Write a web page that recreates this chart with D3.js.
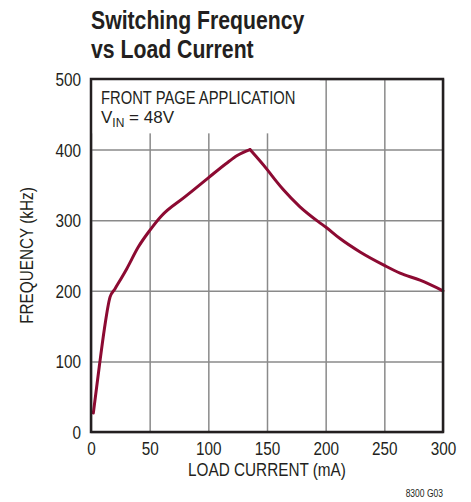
<!DOCTYPE html>
<html lang="en">
<head>
    <meta charset="UTF-8">
    <title>Switching Frequency vs Load Current</title>
    <script src="https://d3js.org/d3.v7.min.js"></script>
    <style>
        body { margin: 0; background: #fff; }
        svg text { font-family: "Liberation Sans", Arial, sans-serif; fill: #231f20; }
    </style>
</head>
<body>
    <svg id="chart"></svg>
    <script>
        // load current (mA) vs switching frequency (kHz)
        const loadCurrent = [2, 7, 11.4, 16.2, 20.5, 30.4, 40.3, 50.3, 60, 80, 100, 115, 125, 135.5,
                             150, 158, 164, 178.1, 193.7, 200.3, 212.2, 229.3, 250, 263.4, 280.4, 300];
        const frequency   = [27, 92, 146, 191, 203, 231, 262, 286, 306, 333, 360, 380, 392, 400,
                             372, 355, 343, 319, 298, 290, 274, 255, 236, 225, 215, 200];
        const xTicks = [0, 50, 100, 150, 200, 250, 300];
        const yTicks = [0, 100, 200, 300, 400, 500];

        const margin = { top: 79, right: 28, bottom: 70, left: 91 };
        const width = 352;
        const height = 353;

        // the original face is a condensed grotesque; squeeze the installed one to match
        const condense = (sel, k) => sel.each(function() {
            const t = d3.select(this);
            t.attr("textLength", this.getComputedTextLength() * k)
             .attr("lengthAdjust", "spacingAndGlyphs");
        });

        const svg = d3.select("#chart")
                      .attr("width", 471)
                      .attr("height", 502);

        const g = svg.append("g")
                     .attr("transform", `translate(${margin.left},${margin.top})`);

        const x = d3.scaleLinear().domain([0, 300]).range([0, width]);
        const y = d3.scaleLinear().domain([0, 500]).range([height, 0]);

        // grid
        g.append("g")
         .attr("transform", `translate(0,${height})`)
         .call(d3.axisBottom(x).tickValues(xTicks).tickSize(-height).tickFormat(""))
         .call(a => a.select(".domain").remove())
         .selectAll("line").attr("stroke", "#8a8a8a").attr("stroke-width", 1.5);

        g.append("g")
         .call(d3.axisLeft(y).tickValues(yTicks).tickSize(-width).tickFormat(""))
         .call(a => a.select(".domain").remove())
         .selectAll("line").attr("stroke", "#8a8a8a").attr("stroke-width", 1.5);

        // blank box behind the note
        g.append("rect")
         .attr("x", 0).attr("y", 0)
         .attr("width", x(195)).attr("height", y(423))
         .attr("fill", "#fff");

        // tick labels
        g.append("g")
         .attr("transform", `translate(0,${height})`)
         .call(d3.axisBottom(x).tickValues(xTicks).tickSize(0).tickPadding(10))
         .call(a => a.select(".domain").remove())
         .selectAll("text").attr("font-size", 18).attr("dy", "0.71em").style("fill", "#231f20")
         .call(condense, 0.85);

        g.append("g")
         .call(d3.axisLeft(y).tickValues(yTicks).tickSize(0).tickPadding(10))
         .call(a => a.select(".domain").remove())
         .selectAll("text").attr("font-size", 18).attr("dy", "0.36em").style("fill", "#231f20")
         .call(condense, 0.85);

        // curve: rising and falling halves meet at the sharp peak
        const pts = loadCurrent.map((d, i) => [d, frequency[i]]);
        const peak = d3.maxIndex(frequency);
        const line = d3.line().x(d => x(d[0])).y(d => y(d[1])).curve(d3.curveMonotoneX);

        g.selectAll(".curve")
         .data([pts.slice(0, peak + 1), pts.slice(peak)])
         .enter()
         .append("path")
         .attr("class", "curve")
         .attr("fill", "none")
         .attr("stroke", "#8c0a32")
         .attr("stroke-width", 3)
         .attr("stroke-linejoin", "round")
         .attr("stroke-linecap", "round")
         .attr("d", line);

        // frame
        g.append("rect")
         .attr("width", width).attr("height", height)
         .attr("fill", "none")
         .attr("stroke", "#231f20")
         .attr("stroke-width", 2.5);

        // note
        g.append("text")
         .attr("x", 10).attr("y", 25)
         .attr("font-size", 18)
         .text("FRONT PAGE APPLICATION")
         .call(condense, 0.82);

        const vin = g.append("text")
                     .attr("x", 10).attr("y", 44)
                     .attr("font-size", 17);
        vin.append("tspan").text("V");
        vin.append("tspan").attr("font-size", 12).attr("dy", 4).text("IN");
        vin.append("tspan").attr("dy", -4).text(" = 48V");

        // axis titles
        svg.append("text")
           .attr("x", margin.left + width / 2)
           .attr("y", 476)
           .attr("text-anchor", "middle")
           .attr("font-size", 18)
           .text("LOAD CURRENT (mA)")
           .call(condense, 0.85);

        svg.append("text")
           .attr("transform", `translate(33,${margin.top + height / 2}) rotate(-90)`)
           .attr("text-anchor", "middle")
           .attr("font-size", 18)
           .text("FREQUENCY (kHz)")
           .call(condense, 0.85);

        // title
        svg.append("text")
           .attr("x", 91).attr("y", 29)
           .attr("font-size", 26)
           .attr("font-weight", "bold")
           .text("Switching Frequency")
           .call(condense, 0.816);
        svg.append("text")
           .attr("x", 91).attr("y", 58)
           .attr("font-size", 26)
           .attr("font-weight", "bold")
           .text("vs Load Current")
           .call(condense, 0.816);

        svg.append("text")
           .attr("x", 443).attr("y", 497)
           .attr("text-anchor", "end")
           .attr("font-size", 10)
           .text("8300 G03")
           .call(condense, 0.85);
    </script>
</body>
</html>
